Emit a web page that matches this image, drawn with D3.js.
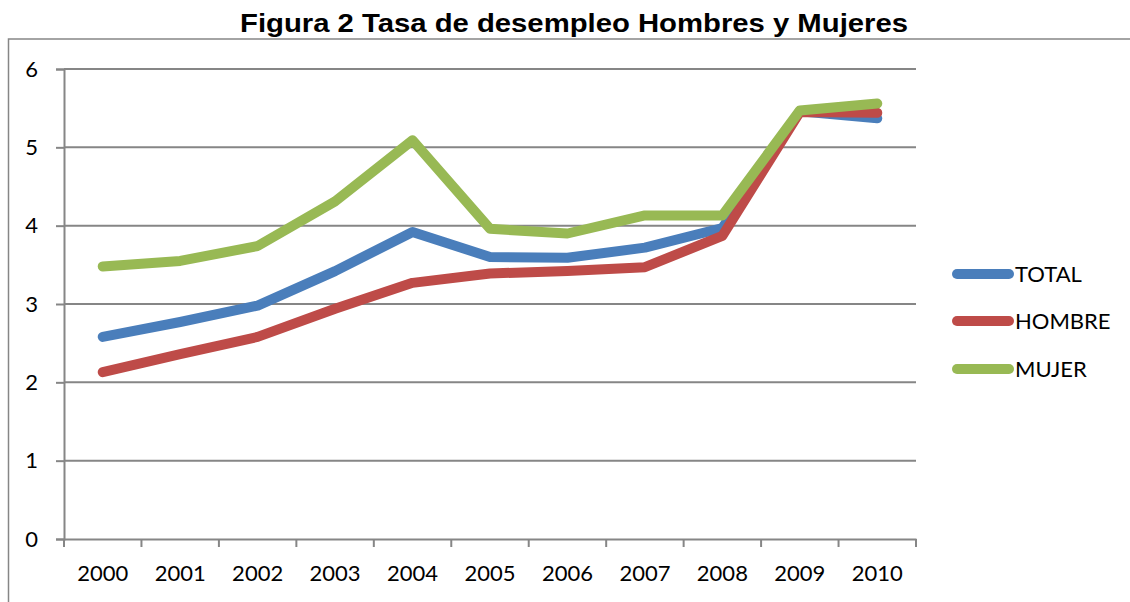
<!DOCTYPE html>
<html>
<head>
<meta charset="utf-8">
<script src="https://cdn.jsdelivr.net/npm/d3@7"></script>
<style>
html,body{margin:0;padding:0;background:#fff;}
svg{display:block;}
</style>
</head>
<body>
<svg id="chart" width="1130" height="602"></svg>
<script>
const years = ["2000","2001","2002","2003","2004","2005","2006","2007","2008","2009","2010"];
const total  = [2.58, 2.77, 2.98, 3.42, 3.92, 3.60, 3.59, 3.72, 3.97, 5.46, 5.37];
const hombre = [2.13, 2.36, 2.58, 2.94, 3.27, 3.39, 3.42, 3.47, 3.87, 5.45, 5.44];
const mujer  = [3.48, 3.55, 3.74, 4.31, 5.09, 3.96, 3.90, 4.13, 4.13, 5.47, 5.56];
const yTicks = [0, 1, 2, 3, 4, 5, 6];
const seriesNames = ["TOTAL", "HOMBRE", "MUJER"];
const seriesColors = ["#4A7EBB", "#BE4B48", "#98B954"];
const seriesValues = [total, hombre, mujer];

(function () {
const svg = d3.select("#chart");
const gridColor = "#868686";
const pLeft = 64, pRight = 916, pTop = 69, pBottom = 539;

// outer frame
svg.append("rect").attr("x", 8.5).attr("y", 39).attr("width", 1300).attr("height", 800)
  .attr("fill", "none").attr("stroke", gridColor).attr("stroke-width", 1.5);

// title
svg.append("text").attr("x", 240).attr("y", 31.5).attr("text-anchor", "start")
  .attr("font-family", "Liberation Sans, Arial, sans-serif").attr("font-weight", "bold")
  .attr("font-size", 26.5).attr("fill", "#000")
  .attr("textLength", 668).attr("lengthAdjust", "spacingAndGlyphs")
  .text("Figura 2 Tasa de desempleo Hombres y Mujeres");

const x = d3.scaleBand().domain(years).range([pLeft, pRight]).paddingInner(0).paddingOuter(0);
const y = d3.scaleLinear().domain([0, 6]).range([pBottom, pTop]);

// gridlines
svg.append("g").selectAll("line").data(yTicks.filter(d => d > 0)).join("line")
  .attr("x1", pLeft).attr("x2", pRight)
  .attr("y1", d => y(d)).attr("y2", d => y(d))
  .attr("stroke", gridColor).attr("stroke-width", 2);

// y axis
const yAxis = svg.append("g").attr("transform", `translate(${pLeft},0)`)
  .call(d3.axisLeft(y).tickValues(yTicks).tickSize(8).tickPadding(18).tickFormat(d3.format("d")));
yAxis.select(".domain").attr("stroke", gridColor).attr("stroke-width", 2);
yAxis.selectAll(".tick line").attr("stroke", gridColor).attr("stroke-width", 2);
yAxis.selectAll(".tick text").attr("font-family", "Lato, Calibri, sans-serif").attr("font-size", 22).attr("fill", "#000");

// x axis
const xAxis = svg.append("g").attr("transform", `translate(0,${pBottom})`)
  .call(d3.axisBottom(x).tickSize(0).tickPadding(26));
xAxis.select(".domain").attr("stroke", gridColor).attr("stroke-width", 2);
xAxis.selectAll(".tick text").attr("font-family", "Lato, Calibri, sans-serif").attr("font-size", 22).attr("fill", "#000");
// boundary tick marks
const bounds = years.map(d => x(d)).concat([x(years[years.length - 1]) + x.bandwidth()]);
svg.append("g").selectAll("line").data(bounds).join("line")
  .attr("x1", d => d).attr("x2", d => d).attr("y1", pBottom).attr("y2", pBottom + 8)
  .attr("stroke", gridColor).attr("stroke-width", 2);

// lines
const line = d3.line().x((d, i) => x(years[i]) + x.bandwidth() / 2).y(d => y(d));
seriesValues.forEach((vals, k) => {
  svg.append("path").datum(vals).attr("d", line)
    .attr("fill", "none").attr("stroke", seriesColors[k]).attr("stroke-width", 10)
    .attr("stroke-linejoin", "round").attr("stroke-linecap", "round");
});

// legend
const legY = [274, 321, 369];
seriesNames.forEach((name, k) => {
  const g = svg.append("g");
  g.append("line").attr("x1", 957).attr("x2", 1009).attr("y1", legY[k]).attr("y2", legY[k])
    .attr("stroke", seriesColors[k]).attr("stroke-width", 10).attr("stroke-linecap", "round");
  g.append("text").attr("x", 1015).attr("y", legY[k]).attr("dy", "0.36em")
    .attr("font-family", "Lato, Calibri, sans-serif").attr("font-size", 22).attr("fill", "#000")
    .text(name);
});
})();
</script>
</body>
</html>
